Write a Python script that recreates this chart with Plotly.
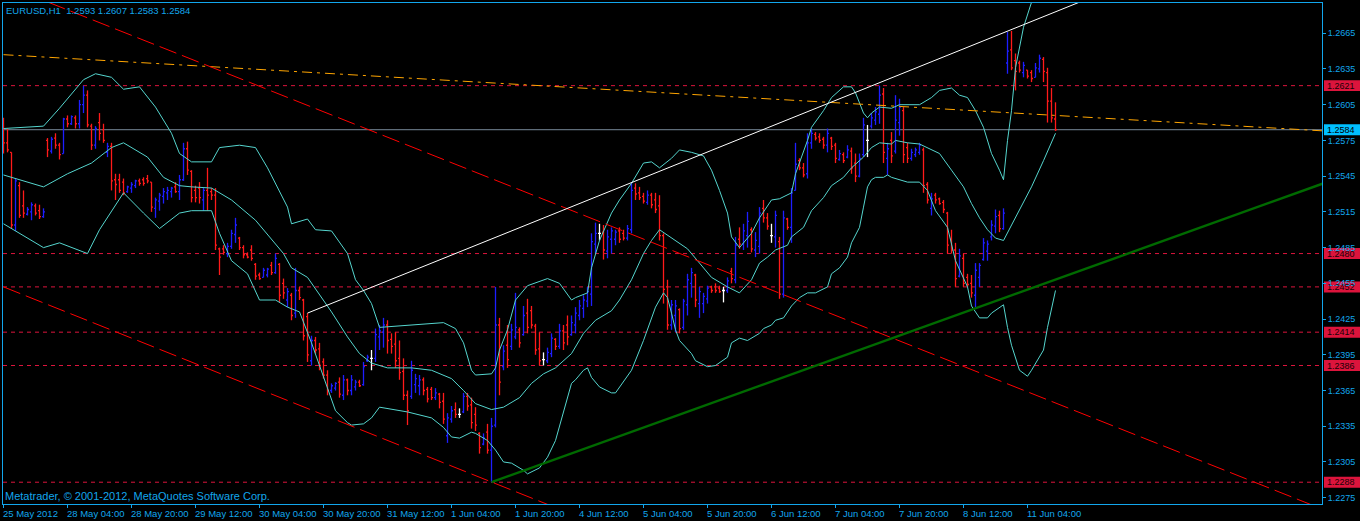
import plotly.graph_objects as go

# ---------------- data (EURUSD H1, bar 0 = 25 May 2012 12:00) ----------------
title_text = "EURUSD,H1\u00a0\u00a01.2593 1.2607 1.2583 1.2584"
copyright_text = "Metatrader, \u00a9 2001-2012, MetaQuotes Software Corp."

opens = [
    1.2588,1.2573,1.2565,1.2504,1.2537,1.2520,1.2513,1.2515,1.2520,1.2516,
    1.2511,1.2575,1.2566,1.2577,1.2571,1.2564,1.2593,1.2589,1.2594,1.2589,
    1.2605,1.2613,1.2587,1.2571,1.2590,1.2584,1.2565,1.2570,1.2542,1.2542,
    1.2540,1.2532,1.2535,1.2537,1.2541,1.2542,1.2543,1.2540,1.2518,1.2524,
    1.2528,1.2531,1.2532,1.2536,1.2532,1.2542,1.2568,1.2549,1.2533,1.2535,
    1.2525,1.2533,1.2532,1.2529,1.2484,1.2484,1.2480,1.2486,1.2496,1.2493,
    1.2485,1.2479,1.2483,1.2471,1.2462,1.2460,1.2462,1.2470,1.2464,1.2471,
    1.2455,1.2441,1.2445,1.2430,1.2449,1.2441,1.2427,1.2390,1.2407,1.2400,
    1.2389,1.2378,1.2365,1.2367,1.2372,1.2361,1.2374,1.2365,1.2368,1.2372,
    1.2370,1.2390,1.2392,1.2392,1.2410,1.2414,1.2420,1.2408,1.2404,1.2392,
    1.2381,1.2361,1.2360,1.2370,1.2369,1.2374,1.2366,1.2366,1.2359,1.2362,
    1.2356,1.2327,1.2341,1.2349,1.2345,1.2347,1.2360,1.2353,1.2345,1.2329,
    1.2320,1.2330,1.2315,1.2336,1.2420,1.2385,1.2403,1.2402,1.2410,1.2416,
    1.2412,1.2430,1.2432,1.2419,1.2400,1.2391,1.2390,1.2396,1.2408,1.2402,
    1.2415,1.2420,1.2412,1.2420,1.2428,1.2434,1.2440,1.2446,1.2488,1.2497,
    1.2498,1.2482,1.2492,1.2492,1.2499,1.2497,1.2493,1.2500,1.2535,1.2531,
    1.2528,1.2523,1.2529,1.2525,1.2520,1.2495,1.2452,1.2420,1.2428,1.2433,
    1.2418,1.2437,1.2455,1.2462,1.2438,1.2438,1.2442,1.2452,1.2452,1.2451,
    1.2449,1.2449,1.2465,1.2458,1.2492,1.2488,1.2495,1.2500,1.2483,1.2486,
    1.2518,1.2510,1.2495,1.2494,1.2490,1.2446,1.2509,1.2502,1.2533,1.2558,
    1.2552,1.2547,1.2573,1.2580,1.2578,1.2576,1.2571,1.2577,1.2571,1.2559,
    1.2563,1.2561,1.2566,1.2556,1.2545,1.2563,1.2575,1.2587,1.2592,1.2597,
    1.2614,1.2560,1.2575,1.2566,1.2590,1.2600,1.2569,1.2560,1.2563,1.2565,
    1.2567,1.2538,1.2518,1.2529,1.2526,1.2523,1.2514,1.2492,1.2483,1.2461,
    1.2476,1.2460,1.2455,1.2445,1.2460,1.2475,1.2482,1.2494,1.2503,1.2512,
    1.2501,1.2640,1.2651,1.2642,1.2640,1.2632,1.2634,1.2632,1.2628,1.2635,
    1.2643,1.2632,1.2608,1.2593,
]
highs = [
    1.2594,1.2585,1.2565,1.2543,1.2540,1.2533,1.2519,1.2523,1.2522,1.2521,
    1.2518,1.2577,1.2578,1.2581,1.2573,1.2594,1.2596,1.2596,1.2596,1.2609,
    1.2621,1.2617,1.2589,1.2587,1.2598,1.2589,1.2573,1.2573,1.2547,1.2547,
    1.2543,1.2537,1.2540,1.2542,1.2543,1.2544,1.2546,1.2540,1.2527,1.2531,
    1.2535,1.2536,1.2536,1.2540,1.2546,1.2573,1.2574,1.2550,1.2537,1.2540,
    1.2535,1.2552,1.2535,1.2535,1.2485,1.2487,1.2489,1.2500,1.2510,1.2494,
    1.2487,1.2481,1.2487,1.2472,1.2464,1.2468,1.2468,1.2473,1.2480,1.2472,
    1.2459,1.2451,1.2447,1.2468,1.2452,1.2442,1.2430,1.2411,1.2410,1.2405,
    1.2392,1.2382,1.2371,1.2372,1.2376,1.2378,1.2375,1.2378,1.2374,1.2374,
    1.2389,1.2395,1.2399,1.2417,1.2420,1.2426,1.2424,1.2413,1.2414,1.2407,
    1.2392,1.2365,1.2390,1.2379,1.2378,1.2376,1.2368,1.2368,1.2367,1.2363,
    1.2363,1.2346,1.2352,1.2355,1.2350,1.2363,1.2363,1.2359,1.2351,1.2330,
    1.2329,1.2337,1.2342,1.2452,1.2426,1.2403,1.2420,1.2421,1.2447,1.2418,
    1.2436,1.2442,1.2436,1.2421,1.2414,1.2397,1.2401,1.2413,1.2409,1.2421,
    1.2420,1.2428,1.2428,1.2435,1.2441,1.2445,1.2452,1.2497,1.2506,1.2505,
    1.2504,1.2500,1.2502,1.2500,1.2502,1.2500,1.2504,1.2540,1.2539,1.2536,
    1.2531,1.2533,1.2531,1.2531,1.2529,1.2497,1.2458,1.2441,1.2441,1.2434,
    1.2442,1.2463,1.2468,1.2463,1.2452,1.2447,1.2453,1.2453,1.2455,1.2453,
    1.2452,1.2460,1.2468,1.2494,1.2502,1.2505,1.2515,1.2502,1.2498,1.2519,
    1.2525,1.2514,1.2505,1.2516,1.2494,1.2516,1.2510,1.2535,1.2573,1.2560,
    1.2556,1.2581,1.2585,1.2582,1.2581,1.2578,1.2585,1.2578,1.2573,1.2567,
    1.2565,1.2571,1.2569,1.2564,1.2564,1.2594,1.2588,1.2598,1.2603,1.2621,
    1.2619,1.2573,1.2582,1.2613,1.2610,1.2603,1.2573,1.2568,1.2569,1.2573,
    1.2569,1.2540,1.2531,1.2531,1.2527,1.2525,1.2515,1.2500,1.2489,1.2484,
    1.2480,1.2463,1.2462,1.2472,1.2472,1.2493,1.2491,1.2508,1.2517,1.2516,
    1.2518,1.2666,1.2667,1.2648,1.2642,1.2641,1.2634,1.2634,1.2640,1.2647,
    1.2645,1.2636,1.2619,1.2607,
]
lows = [
    1.2564,1.2565,1.2501,1.2499,1.2510,1.2510,1.2512,1.2508,1.2512,1.2509,
    1.2510,1.2561,1.2564,1.2568,1.2559,1.2564,1.2586,1.2588,1.2585,1.2585,
    1.2598,1.2586,1.2567,1.2568,1.2575,1.2573,1.2561,1.2533,1.2525,1.2531,
    1.2529,1.2531,1.2531,1.2535,1.2537,1.2537,1.2539,1.2515,1.2510,1.2516,
    1.2522,1.2525,1.2527,1.2531,1.2525,1.2541,1.2546,1.2523,1.2523,1.2522,
    1.2516,1.2516,1.2525,1.2483,1.2462,1.2479,1.2477,1.2484,1.2489,1.2483,
    1.2476,1.2476,1.2474,1.2458,1.2458,1.2460,1.2460,1.2462,1.2463,1.2439,
    1.2442,1.2435,1.2424,1.2426,1.2441,1.2407,1.2389,1.2386,1.2396,1.2382,
    1.2375,1.2361,1.2363,1.2365,1.2359,1.2357,1.2361,1.2361,1.2365,1.2368,
    1.2369,1.2389,1.2382,1.2389,1.2399,1.2401,1.2396,1.2396,1.2384,1.2374,
    1.2357,1.2336,1.2358,1.2363,1.2361,1.2361,1.2355,1.2357,1.2357,1.2350,
    1.2337,1.2321,1.2338,1.2342,1.2342,1.2346,1.2348,1.2333,1.2331,1.2312,
    1.2319,1.2312,1.2288,1.2334,1.2361,1.2382,1.2384,1.2399,1.2408,1.2401,
    1.2411,1.2413,1.2417,1.2395,1.2386,1.2386,1.2388,1.2393,1.2399,1.2400,
    1.2399,1.2403,1.2411,1.2413,1.2424,1.2426,1.2435,1.2436,1.2480,1.2491,
    1.2475,1.2476,1.2480,1.2487,1.2489,1.2491,1.2491,1.2497,1.2525,1.2525,
    1.2522,1.2521,1.2518,1.2514,1.2491,1.2438,1.2416,1.2416,1.2414,1.2413,
    1.2416,1.2428,1.2443,1.2435,1.2426,1.2430,1.2438,1.2447,1.2447,1.2447,
    1.2439,1.2447,1.2455,1.2455,1.2484,1.2483,1.2485,1.2481,1.2477,1.2480,
    1.2506,1.2500,1.2489,1.2485,1.2442,1.2443,1.2500,1.2489,1.2533,1.2550,
    1.2544,1.2543,1.2568,1.2575,1.2573,1.2568,1.2565,1.2567,1.2556,1.2558,
    1.2556,1.2560,1.2547,1.2540,1.2544,1.2561,1.2561,1.2585,1.2588,1.2589,
    1.2556,1.2546,1.2556,1.2564,1.2579,1.2556,1.2556,1.2558,1.2561,1.2563,
    1.2531,1.2522,1.2512,1.2522,1.2521,1.2514,1.2480,1.2480,1.2452,1.2460,
    1.2452,1.2452,1.2443,1.2435,1.2452,1.2474,1.2474,1.2491,1.2497,1.2498,
    1.2500,1.2631,1.2634,1.2617,1.2632,1.2628,1.2627,1.2624,1.2628,1.2632,
    1.2624,1.2590,1.2590,1.2583,
]
closes = [
    1.2573,1.2567,1.2504,1.2541,1.2512,1.2514,1.2517,1.2521,1.2514,1.2511,
    1.2515,1.2567,1.2576,1.2571,1.2563,1.2593,1.2589,1.2595,1.2589,1.2605,
    1.2613,1.2588,1.2571,1.2585,1.2581,1.2575,1.2570,1.2541,1.2538,1.2533,
    1.2531,1.2536,1.2538,1.2541,1.2539,1.2539,1.2541,1.2519,1.2525,1.2529,
    1.2532,1.2533,1.2535,1.2532,1.2542,1.2568,1.2550,1.2527,1.2527,1.2527,
    1.2533,1.2529,1.2529,1.2487,1.2477,1.2481,1.2486,1.2497,1.2504,1.2485,
    1.2479,1.2477,1.2476,1.2461,1.2459,1.2466,1.2467,1.2464,1.2476,1.2445,
    1.2447,1.2448,1.2428,1.2449,1.2443,1.2411,1.2395,1.2407,1.2399,1.2386,
    1.2378,1.2365,1.2369,1.2371,1.2362,1.2374,1.2365,1.2374,1.2372,1.2369,
    1.2385,1.2393,1.2392,1.2412,1.2415,1.2420,1.2407,1.2402,1.2390,1.2380,
    1.2361,1.2348,1.2382,1.2375,1.2374,1.2365,1.2358,1.2359,1.2363,1.2355,
    1.2341,1.2342,1.2348,1.2345,1.2345,1.2360,1.2352,1.2338,1.2336,1.2317,
    1.2325,1.2315,1.2335,1.2420,1.2372,1.2398,1.2391,1.2416,1.2418,1.2405,
    1.2428,1.2418,1.2420,1.2399,1.2390,1.2391,1.2397,1.2409,1.2402,1.2415,
    1.2405,1.2410,1.2422,1.2430,1.2436,1.2441,1.2448,1.2490,1.2497,1.2497,
    1.2483,1.2494,1.2499,1.2498,1.2492,1.2493,1.2501,1.2533,1.2530,1.2527,
    1.2524,1.2529,1.2521,1.2517,1.2495,1.2450,1.2420,1.2437,1.2436,1.2417,
    1.2440,1.2458,1.2464,1.2441,1.2448,1.2444,1.2451,1.2449,1.2449,1.2448,
    1.2449,1.2457,1.2459,1.2487,1.2488,1.2499,1.2507,1.2484,1.2491,1.2514,
    1.2510,1.2503,1.2495,1.2512,1.2446,1.2510,1.2502,1.2531,1.2555,1.2552,
    1.2546,1.2573,1.2581,1.2577,1.2575,1.2571,1.2581,1.2570,1.2560,1.2564,
    1.2558,1.2567,1.2552,1.2545,1.2560,1.2588,1.2575,1.2594,1.2599,1.2613,
    1.2565,1.2568,1.2562,1.2592,1.2603,1.2563,1.2560,1.2565,1.2567,1.2571,
    1.2537,1.2525,1.2526,1.2525,1.2522,1.2517,1.2487,1.2483,1.2459,1.2478,
    1.2455,1.2454,1.2447,1.2466,1.2470,1.2489,1.2488,1.2504,1.2511,1.2501,
    1.2514,1.2650,1.2636,1.2633,1.2634,1.2638,1.2629,1.2627,1.2636,1.2644,
    1.2633,1.2608,1.2594,1.2584,
]

# time-axis labels (every 16 bars)
time_tick_idx = [0, 16, 32, 48, 64, 80, 96, 112, 128, 144, 160, 176, 192, 208, 224, 240, 256]
time_tick_text = ["25 May 2012", "28 May 04:00", "28 May 20:00", "29 May 12:00", "30 May 04:00",
                  "30 May 20:00", "31 May 12:00", "1 Jun 04:00", "1 Jun 20:00", "4 Jun 12:00",
                  "5 Jun 04:00", "5 Jun 20:00", "6 Jun 12:00", "7 Jun 04:00", "7 Jun 20:00",
                  "8 Jun 12:00", "11 Jun 04:00"]

price_ticks = [1.2275, 1.2305, 1.2335, 1.2365, 1.2395, 1.2425, 1.2455, 1.2485,
               1.2515, 1.2545, 1.2575, 1.2605, 1.2635, 1.2665]

# band indicator (bar index, price)
upper_band = [(0,1.2585),(10,1.2587),(14,1.2602),(20,1.2626),(23,1.2631),(27,1.2628),(30,1.2618),
    (34,1.2620),(38,1.2603),(42,1.2581),(44,1.2564),(47,1.2557),(52,1.2557),(54,1.2569),(59,1.2571),
    (63,1.2569),(66,1.2552),(71,1.2519),(72,1.2505),(76,1.2509),(78,1.2500),(82,1.2499),(86,1.2480),
    (88,1.2458),(90,1.2449),(92,1.2438),(94,1.2418),(102,1.2420),(108,1.2421),(110,1.2422),(113,1.2417),
    (115,1.2405),(117,1.2382),(118,1.2378),(122,1.2379),(123,1.2384),(124,1.2399),(126,1.2416),
    (128,1.2441),(131,1.2453),(136,1.2459),(139,1.2455),(142,1.2441),(143,1.2443),(146,1.2447),
    (147,1.2468),(149,1.2491),(152,1.2514),(154,1.2525),(157,1.2539),(160,1.2556),(162,1.2557),
    (164,1.2552),(167,1.2560),(169,1.2567),(172,1.2565),(175,1.2562),(177,1.2550),(179,1.2533),
    (181,1.2514),(182,1.2494),(184,1.2485),(187,1.2497),(189,1.2510),(192,1.2525),(194,1.2526),
    (197,1.2531),(198,1.2547),(201,1.2575),(202,1.2586),(205,1.2600),(207,1.2611),(210,1.2620),
    (212,1.2620),(213,1.2615),(215,1.2598),(216,1.2594),(217,1.2598),(219,1.2603),(222,1.2602),
    (224,1.2605),(229,1.2605),(232,1.2611),(234,1.2617),(237,1.2619),(239,1.2613),(241,1.2611),
    (243,1.2600),(245,1.2586),(247,1.2564),(249,1.2550),(250,1.2542),(251,1.2575),(252,1.2600),
    (253,1.2636),(255,1.2670),(257,1.2691)]
middle_band = [(0,1.2546),(10,1.2536),(16,1.2547),(22,1.2556),(27,1.2569),(30,1.2573),(36,1.2561),
    (40,1.2544),(44,1.2537),(47,1.2536),(52,1.2535),(57,1.2525),(63,1.2508),(70,1.2480),(72,1.2468),
    (76,1.2460),(82,1.2431),(86,1.2410),(89,1.2396),(92,1.2388),(96,1.2384),(102,1.2384),(107,1.2382),
    (112,1.2375),(115,1.2365),(118,1.2354),(122,1.2349),(125,1.2351),(129,1.2359),(132,1.2371),
    (135,1.2379),(138,1.2384),(142,1.2396),(145,1.2413),(148,1.2424),(152,1.2432),(154,1.2441),
    (157,1.2458),(160,1.2480),(162,1.2491),(164,1.2500),(167,1.2493),(171,1.2484),(174,1.2472),
    (177,1.2460),(181,1.2452),(184,1.2447),(187,1.2458),(189,1.2472),(191,1.2477),(193,1.2483),
    (196,1.2487),(197,1.2494),(200,1.2502),(202,1.2516),(205,1.2527),(207,1.2537),(210,1.2544),
    (212,1.2552),(215,1.2561),(217,1.2569),(219,1.2573),(222,1.2572),(223,1.2575),(226,1.2573),
    (229,1.2572),(231,1.2569),(234,1.2564),(237,1.2550),(240,1.2536),(242,1.2522),(244,1.2510),
    (246,1.2500),(248,1.2493),(250,1.2491),(253,1.2510),(257,1.2536),(260,1.2558),(263,1.2581)]
lower_band = [(0,1.2505),(2,1.2501),(10,1.2485),(14,1.2489),(21,1.2480),(24,1.2500),(30,1.2531),
    (35,1.2514),(39,1.2501),(44,1.2514),(47,1.2516),(52,1.2516),(54,1.2497),(57,1.2474),(61,1.2463),
    (64,1.2441),(68,1.2441),(71,1.2435),(74,1.2431),(77,1.2405),(81,1.2368),(83,1.2348),(86,1.2338),
    (87,1.2336),(90,1.2337),(92,1.2342),(94,1.2351),(101,1.2347),(107,1.2342),(110,1.2334),
    (112,1.2326),(114,1.2325),(117,1.2330),(118,1.2329),(121,1.2323),(123,1.2315),(125,1.2305),
    (127,1.2304),(130,1.2298),(131,1.2295),(134,1.2300),(136,1.2309),(138,1.2323),(140,1.2346),
    (142,1.2371),(143,1.2374),(145,1.2382),(146,1.2384),(147,1.2376),(149,1.2368),(152,1.2363),
    (153,1.2363),(157,1.2382),(160,1.2407),(163,1.2435),(165,1.2447),(166,1.2443),(167,1.2430),
    (168,1.2416),(169,1.2407),(172,1.2396),(173,1.2390),(176,1.2385),(178,1.2386),(181,1.2393),
    (182,1.2405),(184,1.2409),(186,1.2407),(189,1.2413),(190,1.2417),(192,1.2420),(193,1.2424),
    (195,1.2426),(197,1.2436),(199,1.2443),(201,1.2447),(203,1.2447),(206,1.2452),(207,1.2463),
    (209,1.2468),(211,1.2477),(212,1.2489),(214,1.2502),(215,1.2519),(216,1.2536),(217,1.2542),
    (218,1.2544),(220,1.2544),(221,1.2546),(222,1.2544),(226,1.2540),(229,1.2540),(231,1.2533),
    (233,1.2516),(236,1.2502),(238,1.2474),(241,1.2452),(242,1.2436),(244,1.2426),(246,1.2426),
    (247,1.2430),(250,1.2437),(251,1.2418),(252,1.2403),(254,1.2382),(256,1.2377),(257,1.2382),
    (260,1.2399),(261,1.2418),(263,1.2449)]

# chart objects: (bar index pair, price pair)
white_trend_idx, white_trend_px = [76, 280], [1.2430, 1.2706]
green_trend_idx, green_trend_px = [122, 335], [1.2288, 1.2545]
red_upper_idx, red_upper_px = [0, 330], [1.2706, 1.2265]
red_lower_idx, red_lower_px = [0, 140], [1.2452, 1.2264]
orange_idx, orange_px = [0, 330], [1.2647, 1.2583]
level_prices = [1.2621, 1.2480, 1.2452, 1.2414, 1.2386, 1.2288]
bid_price = 1.2584

assert len(opens) == len(highs) == len(lows) == len(closes) == 264

# ---------------- styling ----------------
FG = "#12A6EC"
UP = "#1E1EFF"
DN = "#FF1A1A"
DOJI = "#FFFFFF"
BAND = "#55D5CE"
LEVEL = "#DC143C"
FONT = "Liberation Sans"

fig = go.Figure()


def bar_paths(idx):
    xs, ys = [], []
    for i in idx:
        xs += [i, i, None, i - 0.375, i, None, i, i + 0.375, None]
        ys += [lows[i], highs[i], None, opens[i], opens[i], None, closes[i], closes[i], None]
    return xs, ys


n = len(opens)
groups = [
    ([i for i in range(n) if closes[i] > opens[i]], UP),
    ([i for i in range(n) if closes[i] < opens[i]], DN),
    ([i for i in range(n) if closes[i] == opens[i]], DOJI),
]
for idx, col in groups:
    xs, ys = bar_paths(idx)
    fig.add_trace(go.Scatter(x=xs, y=ys, mode="lines", line=dict(color=col, width=1.3),
                             hoverinfo="skip", showlegend=False))

for band in (upper_band, middle_band, lower_band):
    fig.add_trace(go.Scatter(x=[p[0] for p in band], y=[p[1] for p in band], mode="lines",
                             line=dict(color=BAND, width=1), hoverinfo="skip", showlegend=False))

fig.add_trace(go.Scatter(x=orange_idx, y=orange_px, mode="lines",
                         line=dict(color="#FFA500", width=1, dash="10px,5px,3px,5px"),
                         hoverinfo="skip", showlegend=False))
for xi, yp in ((red_upper_idx, red_upper_px), (red_lower_idx, red_lower_px)):
    fig.add_trace(go.Scatter(x=xi, y=yp, mode="lines",
                             line=dict(color="#FF0000", width=1, dash="18px,6px"),
                             hoverinfo="skip", showlegend=False))
fig.add_trace(go.Scatter(x=white_trend_idx, y=white_trend_px, mode="lines",
                         line=dict(color="#FFFFFF", width=1), hoverinfo="skip", showlegend=False))
fig.add_trace(go.Scatter(x=green_trend_idx, y=green_trend_px, mode="lines",
                         line=dict(color="#006A00", width=2.4), hoverinfo="skip", showlegend=False))

shapes = []
annotations = []
half_box = 0.00046
box_x0, box_x1 = 1.0015, 1.0289
for lv in level_prices:
    shapes.append(dict(type="line", xref="paper", x0=0, x1=1, yref="y", y0=lv, y1=lv,
                       line=dict(color=LEVEL, width=1, dash="4px,4px"), layer="below"))
    shapes.append(dict(type="rect", xref="paper", x0=box_x0, x1=box_x1, yref="y",
                       y0=lv - half_box, y1=lv + half_box, fillcolor=LEVEL,
                       line=dict(width=0), layer="below"))
    annotations.append(dict(xref="paper", x=box_x0, yref="y", y=lv, text=f"{lv:.4f}",
                            xanchor="left", yanchor="middle", showarrow=False, xshift=1,
                            font=dict(family=FONT, size=9, color="#1A0005")))
shapes.append(dict(type="line", xref="paper", x0=0, x1=1, yref="y", y0=bid_price, y1=bid_price,
                   line=dict(color="#778899", width=1), layer="below"))
shapes.append(dict(type="rect", xref="paper", x0=box_x0, x1=box_x1, yref="y",
                   y0=bid_price - half_box, y1=bid_price + half_box, fillcolor="#00BFFF",
                   line=dict(width=0), layer="below"))
annotations.append(dict(xref="paper", x=box_x0, yref="y", y=bid_price, text=f"{bid_price:.4f}",
                        xanchor="left", yanchor="middle", showarrow=False, xshift=1,
                        font=dict(family=FONT, size=9, color="#000000")))

for k, txt in zip(time_tick_idx, time_tick_text):
    annotations.append(dict(xref="x", x=k, yref="paper", y=0, yshift=-9, text=txt,
                            xanchor="left", yanchor="middle", showarrow=False, xshift=-3,
                            font=dict(family=FONT, size=9.5, color=FG)))

annotations.append(dict(xref="paper", x=0, yref="paper", y=1, yshift=-7.5, xshift=1,
                        text=title_text, xanchor="left", yanchor="middle", showarrow=False,
                        font=dict(family=FONT, size=9.5, color=FG)))
annotations.append(dict(xref="paper", x=0, yref="paper", y=0, yshift=8, xshift=0,
                        text=copyright_text, xanchor="left", yanchor="middle", showarrow=False,
                        font=dict(family=FONT, size=11, color=FG)))

fig.update_layout(
    template="none",
    width=1360, height=521,
    margin=dict(l=3, r=38, t=3, b=17, pad=0),
    paper_bgcolor="#000000", plot_bgcolor="#000000",
    showlegend=False, hovermode=False, dragmode=False,
    shapes=shapes, annotations=annotations,
    xaxis=dict(range=[-0.125, 329.625], showgrid=False, zeroline=False, showline=True,
               linecolor=FG, linewidth=1, mirror=True, ticks="outside", ticklen=3,
               tickcolor=FG, tickwidth=1, tickvals=time_tick_idx, showticklabels=False,
               automargin=False, fixedrange=True),
    yaxis=dict(side="right", range=[1.22697, 1.26904], showgrid=False, zeroline=False,
               showline=True, linecolor=FG, linewidth=1, mirror=True, ticks="outside",
               ticklen=3, tickcolor=FG, tickwidth=1, tickvals=price_ticks,
               ticktext=[f"{v:.4f}" for v in price_ticks],
               tickfont=dict(family=FONT, size=9, color=FG), automargin=False, fixedrange=True),
)

fig.write_html(
    "out.html",
    config={"displayModeBar": False},
    post_script="document.body.style.margin='0';document.body.style.background='#000';",
)
